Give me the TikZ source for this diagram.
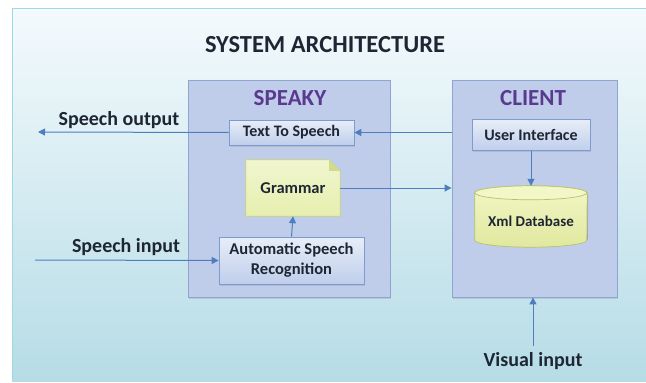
\documentclass[tikz,border=0pt]{standalone}
\usepackage{fontspec}
\setmainfont{Carlito}
\usetikzlibrary{shapes.geometric,arrows.meta,shadows}
\definecolor{bgtop}{HTML}{F4FAFD}
\definecolor{bgbot}{HTML}{B6DCE6}
\definecolor{bgline}{HTML}{9ED8E2}
\definecolor{contfill}{HTML}{BFCDEA}
\definecolor{contline}{HTML}{8EA5D2}
\definecolor{boxtop}{HTML}{E8EEF8}
\definecolor{boxbot}{HTML}{BFCEEC}
\definecolor{boxline}{HTML}{7E9BCF}
\definecolor{arrowc}{HTML}{4F7EC0}
\definecolor{txt}{HTML}{1E2633}
\definecolor{purp}{HTML}{5A3A8E}
\definecolor{gramfill}{HTML}{E6EFAE}
\definecolor{gramline}{HTML}{C9D27C}
\definecolor{dbtop}{HTML}{F3F6C6}
\definecolor{dbbot}{HTML}{E0E89E}
\definecolor{dbline}{HTML}{B9C16A}
\tikzset{
  container/.style={draw=contline, fill=contfill, line width=0.8pt, minimum width=#1, minimum height=217pt, drop shadow={shadow xshift=1pt, shadow yshift=-1.5pt, opacity=0.25}},
  innerbox/.style={draw=boxline, top color=boxtop, bottom color=boxbot, line width=0.7pt, font=\bfseries\fontsize{16}{18}\selectfont, text=txt, align=center, drop shadow={shadow xshift=1pt, shadow yshift=-1.5pt, opacity=0.25}},
  contlabel/.style={font=\bfseries\fontsize{23}{25}\selectfont, text=purp},
  extlabel/.style={font=\bfseries\fontsize{20}{22}\selectfont, text=txt},
  arr/.style={draw=arrowc, line width=1pt, -{Triangle[length=7pt,width=7pt]}},
}
\begin{document}
\begin{tikzpicture}[x=1pt,y=-1pt]
\useasboundingbox (0,0) rectangle (646,383);
\fill[white] (0,0) rectangle (646,383);
\shade[top color=bgtop, bottom color=bgbot] (12,8) rectangle (646,381);
\draw[bgline, line width=0.8pt] (12,381) -- (12,8) -- (646,8);

\node[font=\bfseries\fontsize{24.5}{26}\selectfont, text=txt] (title) at (325,45) {SYSTEM ARCHITECTURE};

\node[container=202pt] (speaky) at (289,188.5) {};
\node[container=165pt] (client) at (534.5,188.5) {};
\node[contlabel] (speakylbl) at (290,98) {SPEAKY};
\node[contlabel] (clientlbl) at (533,98) {CLIENT};

\node[innerbox, minimum width=125pt, minimum height=25pt] (tts) at (291.5,132.5) {Text To Speech};
\node[innerbox, minimum width=145pt, minimum height=47pt, font=\bfseries\fontsize{16.5}{20}\selectfont] (asr) at (291.5,260.5) {Automatic Speech\\Recognition};
\node[innerbox, minimum width=118pt, minimum height=31pt] (ui) at (531,135) {User Interface};

% grammar (folded page)
\node[minimum width=94pt, minimum height=56pt, inner sep=0pt] (grammar) at (293,188) {};
\shade[top color=gramfill!60!white, bottom color=gramfill, draw=gramline, line width=0.7pt]
  (grammar.north west) -- ([xshift=-11pt]grammar.north east) -- ([yshift=-11pt]grammar.north east) -- (grammar.south east) -- (grammar.south west) -- cycle;
\fill[gramline!70!gramfill] ([xshift=-11pt]grammar.north east) -- ([yshift=-11pt]grammar.north east) -- ([xshift=-11pt,yshift=-11pt]grammar.north east) -- cycle;
\node[font=\bfseries\fontsize{16.5}{18}\selectfont, text=txt] (gramlbl) at (grammar.center) {Grammar};

% database cylinder (drawn by hand)
\node[minimum width=112pt, minimum height=61pt, inner sep=0pt] (db) at (531,216.5) {};
\fill[black, opacity=0.2] ([xshift=1pt,yshift=-8pt]db.north west) -- ([xshift=1pt,yshift=8pt]db.south west)
  arc[start angle=180, end angle=360, x radius=56pt, y radius=7pt] -- ([xshift=1pt,yshift=-8pt]db.north east) -- cycle;
\shade[top color=dbtop, bottom color=dbbot, draw=dbline, line width=0.7pt]
  ([yshift=-7pt]db.north west) -- ([yshift=7pt]db.south west)
  arc[start angle=180, end angle=360, x radius=56pt, y radius=7pt]
  -- ([yshift=-7pt]db.north east)
  arc[start angle=0, end angle=180, x radius=56pt, y radius=7pt] -- cycle;
\draw[dbline, line width=0.7pt, fill=dbtop] ([yshift=-7pt]db.north west)
  arc[start angle=180, end angle=360, x radius=56pt, y radius=7pt]
  arc[start angle=0, end angle=180, x radius=56pt, y radius=7pt];
\node[font=\bfseries\fontsize{15}{17}\selectfont, text=txt] (dblbl) at (531,221) {Xml Database};

% external
\coordinate (soend) at (38,132);
\coordinate (sistart) at (35,260);
\node[extlabel] (solbl) at (119,120) {Speech output};
\node[extlabel] (silbl) at (126,247) {Speech input};
\node[extlabel] (vislbl) at (533,361) {Visual input};

\draw[arr] (tts.east -| client.west) -- (tts.east);
\draw[arr] (grammar.east) -- (grammar.east -| client.west);
\draw[arr] (ui.south) -- (db.north);
\draw[arr] (asr.north) -- (grammar.south);
\draw[arr] (tts.west) -- (soend);
\draw[arr] (sistart) -- (asr.west);
\draw[arr] ([yshift=3pt]vislbl.north) -- (vislbl.north |- client.south);
\end{tikzpicture}
\end{document}
